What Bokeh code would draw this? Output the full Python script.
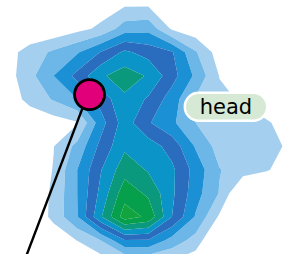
from bokeh.plotting import figure
from bokeh.models import Range1d, Label
from bokeh.embed import file_html
from bokeh.resources import INLINE
import numpy as np

# grid of density values (rows top -> bottom, columns left -> right)
grid_cols = [0, 1, 2, 3, 4, 5, 6, 7, 8, 9, 10, 11, 12]
grid_rows = [0, 1, 2, 3, 4, 5, 6, 7, 8, 9, 10, 11]
density = [
    [0.0, 0.0, 0.0, 0.2, 0.5, 0.9, 0.9, 0.4, 0.1, 0.0, 0.0, 0.0, 0.0],
    [0.0, 0.2, 0.2, 0.7, 1.2, 2.5, 2.7, 0.85, 0.3, 0.0, 0.0, 0.0, 0.0],
    [0.6, 1.4, 2.2, 2.9, 4.05, 5.2, 4.6, 4.1, 2.1, 0.5, 0.1, 0.0, 0.0],
    [0.5, 1.7, 3.0, 4.3, 5.85, 6.5, 5.9, 4.4, 2.8, 0.97, 0.3, 0.0, 0.0],
    [0.4, 1.3, 2.1, 3.0, 4.4, 5.8, 4.85, 3.5, 1.9, 1.2, 0.9, 0.4, 0.1],
    [0.0, 0.3, 0.5, 0.9, 3.6, 5.5, 4.1, 3.2, 2.0, 1.5, 1.3, 1.1, 0.6],
    [0.0, 0.3, 0.97, 2.3, 4.3, 5.8, 5.5, 4.6, 2.9, 1.6, 1.4, 1.3, 0.85],
    [0.0, 0.2, 1.05, 3.0, 4.95, 6.6, 5.9, 5.2, 3.6, 2.05, 1.5, 1.1, 0.4],
    [0.0, 0.2, 1.2, 3.0, 5.3, 7.6, 6.8, 5.2, 3.4, 1.95, -0.3, -0.5, 0.0],
    [0.0, 0.0, 1.3, 2.95, 5.9, 8.5, 7.8, 5.0, 2.9, 0.85, -1.0, -1.0, 0.0],
    [0.0, 0.0, 0.2, 1.02, 2.0, 3.9, 3.9, 2.6, 1.6, -0.5, -1.0, -1.0, 0.0],
    [0.0, 0.0, 0.0, 0.0, 0.3, 0.7, 0.8, 0.8, 0.2, 0.0, 0.0, 0.0, 0.0],
]
levels = [1, 2, 3, 4, 5, 6, 7, 8, 9]
band_colors = ["#a5cfef", "#6cb7e7", "#1b90d5", "#2a6dbe",
               "#0b94c8", "#0a997c", "#06a04c", "#12a53f"]

# annotations
marker_x = [3.52]
marker_y = [3.8]
pointer_x = [3.44, 0.72]
pointer_y = [3.8, 11.0]
label_text = "head"
label_x = 9.28
label_y = 4.32

p = figure(width=288, height=254, output_backend="svg", toolbar_location=None,
           x_range=Range1d(-0.24, 11.92), y_range=Range1d(10.6, -0.2),
           x_axis_type=None, y_axis_type=None, min_border=0)
p.outline_line_color = None
p.background_fill_color = "white"

p.contour(x=np.array(grid_cols, dtype=float), y=np.array(grid_rows, dtype=float),
          z=np.array(density), levels=levels, fill_color=band_colors, line_color=None)

p.line(x=pointer_x, y=pointer_y, line_color="black", line_width=2.4)
p.scatter(x=marker_x, y=marker_y, size=30, fill_color="#e2007a",
          line_color="black", line_width=2.8)

lab = Label(x=label_x, y=label_y, text=label_text, text_align="center",
            text_baseline="middle", text_font="DejaVu Sans", text_font_size="21px",
            text_color="black", background_fill_color="#d5e9d5",
            border_line_color="white", border_line_width=2.4,
            border_radius=14, padding=(15, 2))
p.add_layout(lab)

open("out.html", "w").write(file_html(p, INLINE))
